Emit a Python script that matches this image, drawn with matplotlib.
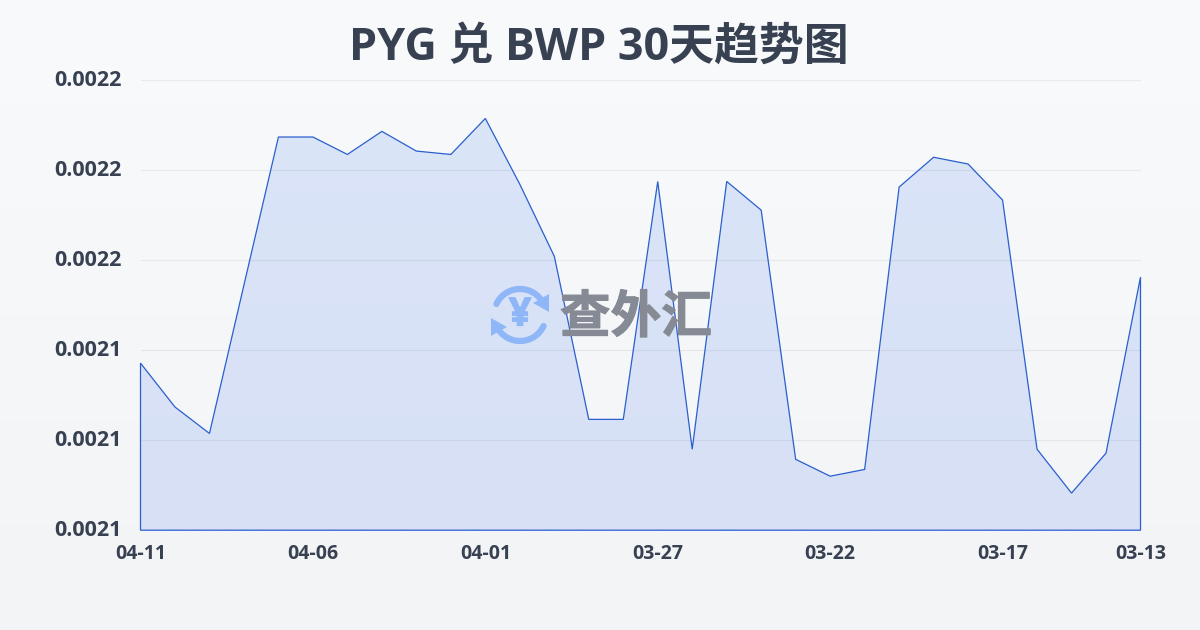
import numpy as np
import matplotlib
matplotlib.use('Agg')
import matplotlib.pyplot as plt
import matplotlib.patheffects as pe
from matplotlib.patches import Arc, Polygon
from matplotlib.colors import LinearSegmentedColormap
from matplotlib.transforms import ScaledTranslation

plt.rcParams['font.family'] = ['Noto Sans CJK SC', 'DejaVu Sans']

dates = ['04-11', '04-10', '04-09', '04-08', '04-07', '04-06', '04-05', '04-04', '04-03', '04-02',
         '04-01', '03-31', '03-30', '03-29', '03-28', '03-27', '03-26', '03-25', '03-24', '03-23',
         '03-22', '03-21', '03-20', '03-19', '03-18', '03-17', '03-16', '03-15', '03-14', '03-13']
rates = [0.0021397, 0.0021319, 0.0021272, 0.0021536, 0.0021799, 0.0021799, 0.0021768, 0.0021809,
         0.0021774, 0.0021768, 0.0021832, 0.0021715, 0.0021587, 0.0021297, 0.0021297, 0.0021720,
         0.0021244, 0.0021720, 0.0021669, 0.0021226, 0.0021196, 0.0021208, 0.0021710, 0.0021763,
         0.0021751, 0.0021687, 0.0021244, 0.0021166, 0.0021237, 0.0021550]
y_ticks = [0.00211, 0.002126, 0.002142, 0.002158, 0.002174, 0.00219]
x_tick_idx = [0, 5, 10, 15, 20, 25, 29]

title = 'PYG 兑 BWP 30天趋势图'
text_color = '#374151'
line_color = '#2a5fcf'
latin = ['Open Sans', 'Noto Sans CJK SC', 'DejaVu Sans']

fig = plt.figure(figsize=(12, 6.3), dpi=100)

# page background, light vertical gradient
bg = fig.add_axes([0, 0, 1, 1], zorder=0)
bg_cmap = LinearSegmentedColormap.from_list('bg', ['#f9fafb', '#f3f4f6'])
bg.imshow(np.linspace(0, 1, 256).reshape(-1, 1), aspect='auto', cmap=bg_cmap, extent=[0, 1200, 630, 0])
bg.set_xlim(0, 1200)
bg.set_ylim(630, 0)
bg.axis('off')

ax = fig.add_axes([140.5 / 1200, 99.8 / 630, 1000 / 1200, 450 / 630], zorder=1)
ax.patch.set_alpha(0)
x = np.arange(len(rates))
ax.set_xlim(0, len(rates) - 1)
ax.set_ylim(y_ticks[0], y_ticks[-1])

# area fill with gradient clipped to the data polygon
fill_cmap = LinearSegmentedColormap.from_list('fill', ['#dbe5f8', '#d7e0f5'])
im = ax.imshow(np.linspace(0, 1, 256).reshape(-1, 1), aspect='auto', cmap=fill_cmap,
               extent=[0, len(rates) - 1, y_ticks[0], y_ticks[-1]], zorder=1)
verts = [(0, y_ticks[0])] + list(zip(x, rates)) + [(len(rates) - 1, y_ticks[0])]
poly = Polygon(verts, closed=True, fill=False, edgecolor=line_color, linewidth=0.9, zorder=3, clip_on=False)
ax.add_patch(poly)
im.set_clip_path(poly)

ax.set_yticks(y_ticks)
ax.set_yticklabels([f'{v:.4f}' for v in y_ticks], fontsize=15.5, fontweight='bold', color=text_color,
                   family=latin)
ax.set_xticks(x_tick_idx)
ax.set_xticklabels([dates[i] for i in x_tick_idx], fontsize=14, fontweight='bold', color=text_color,
                   family=latin)
ax.tick_params(axis='both', length=0)
ax.tick_params(axis='y', pad=13.5)
ax.tick_params(axis='x', pad=10)
# labels sit a little above their grid lines in the reference
for lab in ax.get_yticklabels():
    lab.set_transform(lab.get_transform() + ScaledTranslation(0, 1.5 / 72, fig.dpi_scale_trans))
ax.grid(axis='y', color='#4b5563', alpha=0.09, linewidth=0.9, zorder=2)
ax.set_axisbelow(False)
for s in ax.spines.values():
    s.set_visible(False)

# overlay in pixel coords: title and watermark
ov = fig.add_axes([0, 0, 1, 1], zorder=2)
ov.set_xlim(0, 1200)
ov.set_ylim(630, 0)
ov.axis('off')
ov.text(599, 48, title, ha='center', va='center', fontsize=32.3, fontweight='bold', color=text_color, family=latin)

icon = '#8fb7f8'
cx, cy, r = 520, 315, 26
ov.add_patch(Arc((cx, cy), 2 * r, 2 * r, theta1=205, theta2=325, color=icon, lw=4.5, capstyle='round'))
ov.add_patch(Arc((cx, cy), 2 * r, 2 * r, theta1=25, theta2=150, color=icon, lw=4.5, capstyle='round'))
ov.add_patch(Polygon([(549, 294), (549, 312), (533, 303)], closed=True, color=icon, lw=0))
ov.add_patch(Polygon([(491, 318), (491, 336), (507, 327)], closed=True, color=icon, lw=0))
ov.text(cx, cy, '¥', ha='center', va='center', fontsize=28, fontweight='bold', color=icon, family=latin,
        path_effects=[pe.withStroke(linewidth=1, foreground=icon)])
ov.text(636, 318, '查外汇', ha='center', va='center', fontsize=36.5, fontweight='bold',
        color='#858a94', path_effects=[pe.withStroke(linewidth=0.8, foreground='#858a94')])

fig.savefig('out.png', dpi=100)
